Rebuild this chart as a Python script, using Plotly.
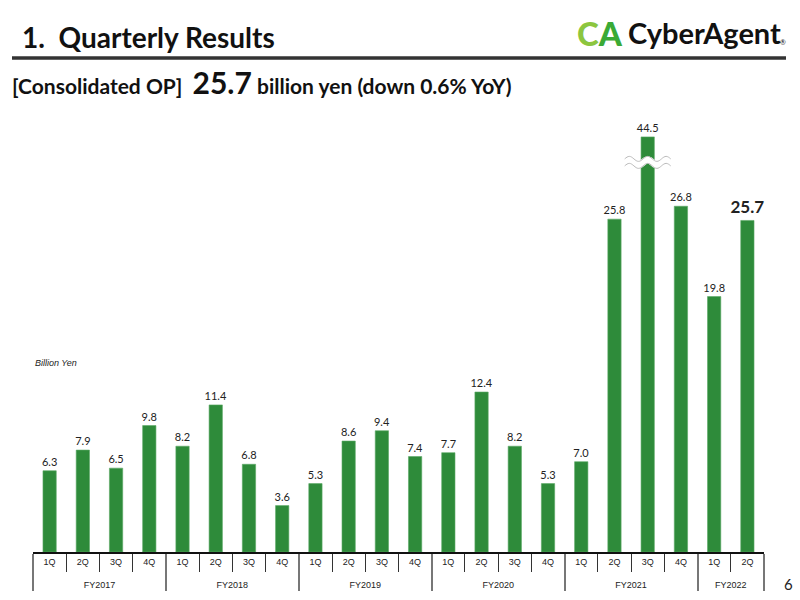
import plotly.graph_objects as go
import math

years = ["FY2017"] * 4 + ["FY2018"] * 4 + ["FY2019"] * 4 + ["FY2020"] * 4 + ["FY2021"] * 4 + ["FY2022"] * 2
quarters = ["1Q", "2Q", "3Q", "4Q"] * 5 + ["1Q", "2Q"]
op_values = [6.3, 7.9, 6.5, 9.8,
             8.2, 11.4, 6.8, 3.6,
             5.3, 8.6, 9.4, 7.4,
             7.7, 12.4, 8.2, 5.3,
             7.0, 25.8, 44.5, 26.8,
             19.8, 25.7]

# broken axis: values above BREAK_AT are compressed
BREAK_AT = 30.0
BREAK_SCALE = 0.15
shown = [v if v <= BREAK_AT else BREAK_AT + (v - BREAK_AT) * BREAK_SCALE for v in op_values]
labels = [f"{v:.1f}" for v in op_values]
n = len(op_values)
sizes = [11] * (n - 1) + [17]
weights = ["normal"] * (n - 1) + ["bold"]
outer = ["<br>" + y for y in years]

GREEN = "#2e8b3a"
fig = go.Figure()
fig.add_trace(go.Bar(
    x=[outer, quarters], y=shown, text=labels, textposition="outside",
    constraintext="none",
    textfont=dict(family="Lato", size=sizes, color="#222", weight=weights),
    marker=dict(color=GREEN, line=dict(color="#5aa865", width=0.6)),
    cliponaxis=False, hoverinfo="skip",
))

L, R, T, B = 33, 764, 110, 552
W, H = R - L, B - T
def px(x):
    return (x - L) / W
def py(y):
    return (B - y) / H

ymax = 34.26
fig.update_layout(
    width=800, height=600,
    margin=dict(l=L, r=800 - R, t=T, b=600 - B),
    paper_bgcolor="white", plot_bgcolor="white",
    bargap=0.6, showlegend=False,
    xaxis=dict(type="multicategory", showline=True, linecolor="#111", linewidth=1.5,
               ticks="outside", ticklen=18, tickcolor="#333", tickwidth=1.2,
               showdividers=True, dividercolor="#777", dividerwidth=1.5,
               tickfont=dict(family="Liberation Sans", size=9, color="#222"),
               range=[-0.5, n - 0.5], fixedrange=True),
    yaxis=dict(visible=False, range=[0, ymax], showgrid=False, fixedrange=True),
)

# wave (axis break marker) over the broken bar
bi = op_values.index(max(op_values))
cx = (bi + 0.5) / n
half = 23 / W
wy = 30.2
amp = 2.5 / (H / ymax)
def wave(offset):
    pts = []
    steps = 40
    for k in range(steps + 1):
        t = k / steps
        x = cx - half + 2 * half * t
        y = wy + offset + amp * math.sin(t * 2 * math.pi * 2.5)
        pts.append((x, y))
    return "M" + " L".join(f"{x:.5f},{y:.4f}" for x, y in pts)

fig.add_shape(type="path", xref="paper", yref="y", path=wave(0), line=dict(color="white", width=7))
du = 3.5 / (H / ymax)
fig.add_shape(type="path", xref="paper", yref="y", path=wave(du), line=dict(color="#bbbbbb", width=1))
fig.add_shape(type="path", xref="paper", yref="y", path=wave(-du), line=dict(color="#bbbbbb", width=1))

# header rule
fig.add_shape(type="line", xref="paper", yref="paper", x0=px(12), x1=px(786), y0=py(58), y1=py(58),
              line=dict(color="#333", width=3.5))

fig.add_annotation(xref="paper", yref="paper", x=px(20), y=py(37), xanchor="left", yanchor="middle",
                   text="<b>1.  Quarterly Results</b>", showarrow=False,
                   font=dict(family="Lato", size=28, color="#111"))
fig.add_annotation(xref="paper", yref="paper", x=px(10), y=py(82), xanchor="left", yanchor="middle",
                   text="<b>[Consolidated OP]  <span style='font-size:30px'>25.7</span> billion yen (down 0.6% YoY)</b>",
                   showarrow=False, font=dict(family="Lato", size=21, color="#111"))

# logo
fig.add_annotation(xref="paper", yref="paper", x=px(575), y=py(33), xanchor="left", yanchor="middle",
                   text="<span style='color:#8cc63f'>C</span><span style='color:#3aaa35'>A</span>",
                   showarrow=False, font=dict(family="Lato", size=33, weight=900))
fig.add_annotation(xref="paper", yref="paper", x=px(626), y=py(33), xanchor="left", yanchor="middle",
                   text="<b>CyberAgent</b>", showarrow=False, font=dict(family="Lato", size=29, color="#111"))
fig.add_annotation(xref="paper", yref="paper", x=px(778), y=py(42), xanchor="left", yanchor="middle",
                   text="®", showarrow=False, font=dict(family="Lato", size=7, color="#111"))

fig.add_annotation(xref="paper", yref="paper", x=px(33), y=py(363), xanchor="left", yanchor="middle",
                   text="<i>Billion Yen</i>", showarrow=False,
                   font=dict(family="Liberation Sans", size=9, color="#222"))
fig.add_annotation(xref="paper", yref="paper", x=px(788), y=py(584), xanchor="center", yanchor="middle",
                   text="6", showarrow=False, font=dict(family="Lato", size=15, color="#222"))

fig.write_html("out.html")
